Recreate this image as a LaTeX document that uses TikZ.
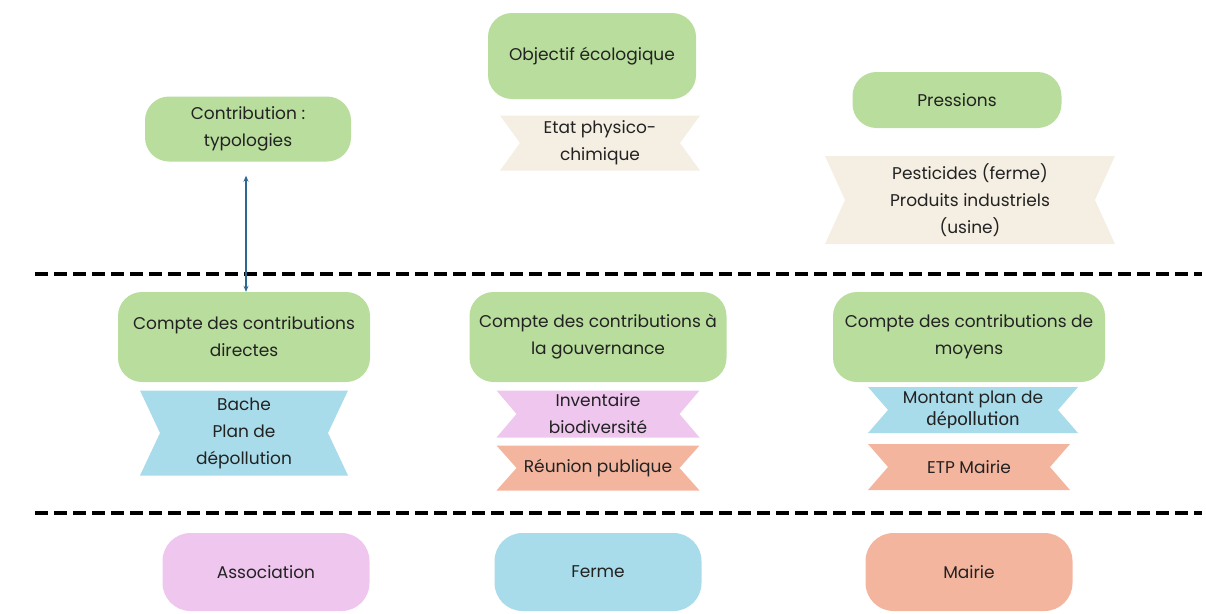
\documentclass[tikz,border=0pt]{standalone}
\usepackage{fontspec}
\setmainfont{Poppins}
\newfontfamily\calib{Carlito}
\usetikzlibrary{arrows.meta}
\definecolor{gfill}{HTML}{B8DD9C}
\definecolor{bfill}{HTML}{A9DCEB}
\definecolor{pfill}{HTML}{EEC6EE}
\definecolor{sfill}{HTML}{F4B59E}
\definecolor{efill}{HTML}{F5EEE2}
\definecolor{txt}{HTML}{222222}
\definecolor{arr}{HTML}{2B6893}
\tikzset{
  lbl/.style={align=center, text=txt, font=\fontsize{17}{27}\selectfont, inner sep=0pt},
  gbox/.style={lbl, rounded corners=24pt, fill=gfill, minimum width=#1},
  cbox/.style={lbl, rounded corners=28pt, minimum width=207pt, minimum height=78pt},
  ribbon/.style={lbl, path picture={\fill[#1]
     (path picture bounding box.north west) -- (path picture bounding box.north east)
     -- ([xshift=-20pt]path picture bounding box.east) -- (path picture bounding box.south east)
     -- (path picture bounding box.south west) -- ([xshift=20pt]path picture bounding box.west) -- cycle;}},
  sep/.style={line width=3.5pt, dash pattern=on 13pt off 6pt},
}
\begin{document}
\begin{tikzpicture}[x=1pt,y=-1pt]
\useasboundingbox (0,0) rectangle (1206,613);
% top row
\node[gbox=206pt, minimum height=65pt] (typ) at (248,129) {Contribution :\\typologies};
\node[gbox=208pt, minimum height=86pt] (obj) at (592,56) {Objectif écologique};
\node[gbox=209pt, minimum height=56pt] (pres) at (957,100) {Pressions};
\node[ribbon=efill, minimum width=200pt, minimum height=55pt] (etat) at (600,143) {Etat physico-\\chimique};
\node[ribbon=efill, minimum width=290pt, minimum height=88pt] (pest) at (970,200) {Pesticides (ferme)\\Produits industriels\\(usine)};
% separators
\coordinate (s1l) at (35,274); \coordinate (s1r) at (1202,274);
\coordinate (s2l) at (35,513); \coordinate (s2r) at (1202,513);
\draw[sep] (s1l) -- (s1r);
\draw[sep] (s2l) -- (s2r);
% middle row
\node[gbox=252pt, minimum height=90pt] (dir) at (244,337) {Compte des contributions\\directes};
\node[gbox=257pt, minimum height=90pt] (gouv) at (598,337) {Compte des contributions à\\la gouvernance};
\node[gbox=272pt, minimum height=90pt] (moy) at (969,337) {Compte des contributions de\\moyens};
\node[ribbon=bfill, minimum width=208pt, minimum height=85pt] (bache) at (244,433) {Bache\\Plan de\\dépollution};
\node[ribbon=pfill, minimum width=203pt, minimum height=47pt] (inv) at (598,414) {Inventaire\\biodiversité};
\node[ribbon=sfill, minimum width=203pt, minimum height=45pt] (reun) at (598,468) {Réunion publique};
\node[ribbon=bfill, minimum width=210pt, minimum height=46pt, font=\fontsize{17}{22}\selectfont] (mont) at (973,410) {Montant plan de\\{\calib\fontsize{20}{22}\selectfont dépollution}};
\node[ribbon=sfill, minimum width=202pt, minimum height=46pt] (etp) at (969,467) {ETP Mairie};
% bottom row
\node[cbox, fill=pfill] (assoc) at (266,572) {Association};
\node[cbox, fill=bfill] (ferme) at (598,572) {Ferme};
\node[cbox, fill=sfill] (mairie) at (969,572) {Mairie};
% arrow
\draw[arr, line width=1.3pt, {Stealth[length=6pt,width=5pt]}-{Stealth[length=6pt,width=5pt]}, shorten <=14pt]
  ([xshift=-2pt]typ.south) -- ([xshift=-2pt]typ.south |- dir.north);
\end{tikzpicture}
\end{document}
